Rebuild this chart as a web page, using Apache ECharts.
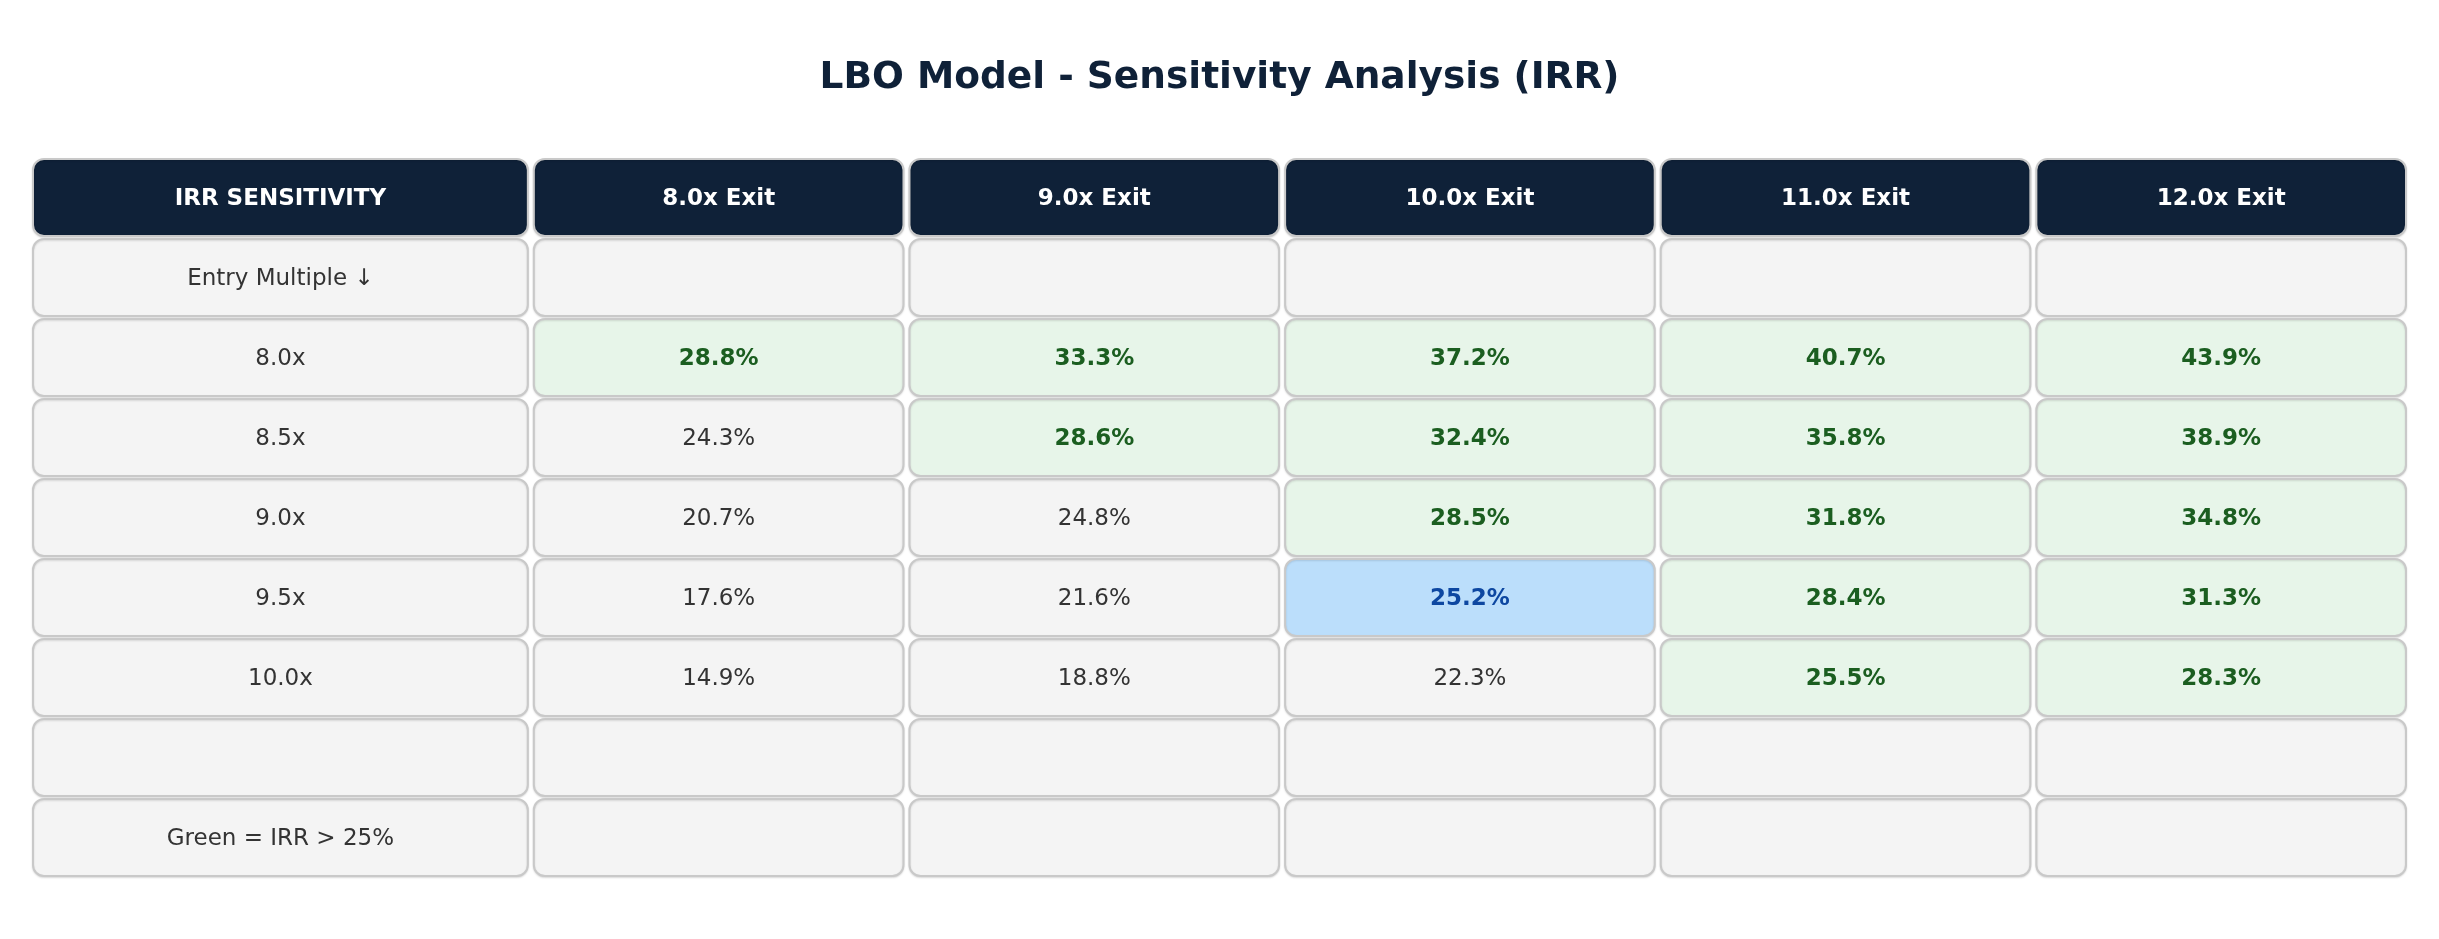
<!DOCTYPE html>
<html>
<head>
<meta charset="utf-8">
<title>LBO Model - Sensitivity Analysis (IRR)</title>
<script src="https://cdn.jsdelivr.net/npm/echarts@6/dist/echarts.min.js"></script>
<style>
    html, body { margin: 0; padding: 0; background: #ffffff; }
    #chart { width: 2439px; height: 939px; }
</style>
</head>
<body>
<div id="chart"></div>
<script>
// table contents
var cornerLabel = 'IRR SENSITIVITY';
var exitMultiples = ['8.0x Exit', '9.0x Exit', '10.0x Exit', '11.0x Exit', '12.0x Exit'];
var entryMultiples = ['8.0x', '8.5x', '9.0x', '9.5x', '10.0x'];
var rowHeader = 'Entry Multiple \u2193';
var footNote = 'Green = IRR > 25%';

// IRR (%) by entry multiple (rows) and exit multiple (columns)
var irr80 = [28.8, 33.3, 37.2, 40.7, 43.9];
var irr85 = [24.3, 28.6, 32.4, 35.8, 38.9];
var irr90 = [20.7, 24.8, 28.5, 31.8, 34.8];
var irr95 = [17.6, 21.6, 25.2, 28.4, 31.3];
var irr100 = [14.9, 18.8, 22.3, 25.5, 28.3];
var irrRows = [irr80, irr85, irr90, irr95, irr100];

var greenCut = 25;
var baseEntry = 3;   // 9.5x
var baseExit = 2;    // 10.0x Exit

// column widths in units (label column is wider)
var colUnits = [4, 3, 3, 3, 3, 3];
var colStart = [0];
for (var k = 0; k < colUnits.length; k++) {
    colStart.push(colStart[k] + colUnits[k]);
}
var nRows = 9;

var styles = {
    header: { fill: '#0f2138', color: '#ffffff', weight: 'bold' },
    plain:  { fill: '#f4f4f4', color: '#333333', weight: 'normal' },
    green:  { fill: '#e7f5e9', color: '#1b5e20', weight: 'bold' },
    base:   { fill: '#bbdefb', color: '#0d47a1', weight: 'bold' }
};

// build cells
var cells = [];
function addCell(col, row, text, style) {
    cells.push({ value: [col, row], text: text, style: style });
}

addCell(0, 0, cornerLabel, 'header');
for (var c = 0; c < exitMultiples.length; c++) {
    addCell(c + 1, 0, exitMultiples[c], 'header');
}
addCell(0, 1, rowHeader, 'plain');
for (c = 0; c < exitMultiples.length; c++) addCell(c + 1, 1, '', 'plain');

for (var r = 0; r < entryMultiples.length; r++) {
    addCell(0, r + 2, entryMultiples[r], 'plain');
    for (c = 0; c < exitMultiples.length; c++) {
        var v = irrRows[r][c];
        var st = 'plain';
        if (r === baseEntry && c === baseExit) {
            st = 'base';
        } else if (v > greenCut) {
            st = 'green';
        }
        addCell(c + 1, r + 2, v.toFixed(1) + '%', st);
    }
}
for (c = 0; c < 6; c++) addCell(c, 7, '', 'plain');
addCell(0, 8, footNote, 'plain');
for (c = 1; c < 6; c++) addCell(c, 8, '', 'plain');

function renderItem(params, api) {
    var cell = cells[params.dataIndex];
    var col = api.value(0);
    var row = api.value(1);
    var p0 = api.coord([colStart[col], row]);
    var p1 = api.coord([colStart[col + 1], row + 1]);
    var x = p0[0] + 3, y = p0[1] + 1.5;
    var w = p1[0] - p0[0] - 6, h = p1[1] - p0[1] - 3;
    var s = styles[cell.style];
    return {
        type: 'group',
        children: [
            {
                type: 'rect',
                shape: { x: x, y: y, width: w, height: h, r: 11 },
                style: {
                    fill: s.fill,
                    stroke: '#c9c9c9',
                    lineWidth: 2,
                    shadowBlur: 2,
                    shadowOffsetY: 1,
                    shadowColor: 'rgba(0,0,0,0.12)'
                }
            },
            {
                type: 'text',
                style: {
                    x: x + w / 2,
                    y: y + h / 2 + 1.5,
                    text: cell.text,
                    fill: s.color,
                    font: s.weight + ' 23px "DejaVu Sans"',
                    align: 'center',
                    verticalAlign: 'middle'
                }
            }
        ]
    };
}

var option = {
    backgroundColor: '#ffffff',
    animation: false,
    title: {
        text: 'LBO Model - Sensitivity Analysis (IRR)',
        left: 'center',
        top: 54.5,
        textStyle: {
            fontFamily: 'DejaVu Sans',
            fontSize: 37.5,
            fontWeight: 'bold',
            color: '#0f2138'
        }
    },
    grid: {
        left: 30,
        right: 30,
        top: 157.5,
        height: 720
    },
    xAxis: {
        type: 'value',
        min: 0,
        max: colStart[colStart.length - 1],
        show: false
    },
    yAxis: {
        type: 'value',
        min: 0,
        max: nRows,
        inverse: true,
        show: false
    },
    series: [
        {
            type: 'custom',
            renderItem: renderItem,
            data: cells.map(function (d) { return d.value; }),
            encode: { x: 0, y: 1 },
            clip: false
        }
    ]
};

var chart = echarts.init(document.getElementById('chart'));
chart.setOption(option);
</script>
</body>
</html>
